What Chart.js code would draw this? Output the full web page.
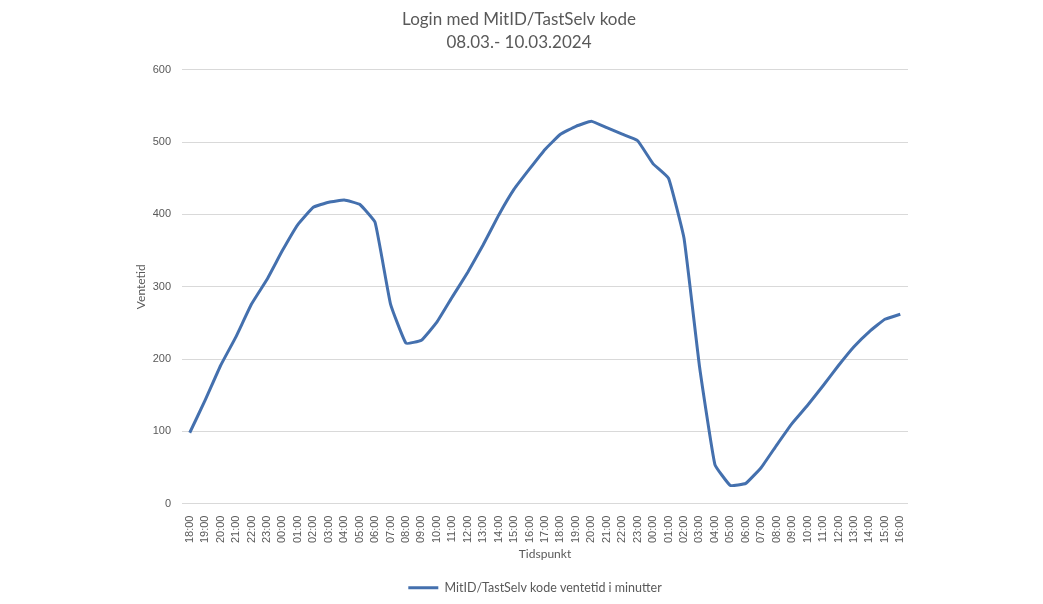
<!DOCTYPE html>
<html>
<head>
<meta charset="utf-8">
<script src="https://cdn.jsdelivr.net/npm/chart.js@4"></script>
<style>
  html, body { margin: 0; padding: 0; background: #fff; }
  #wrap { width: 1043px; height: 604px; }
</style>
</head>
<body>
<div id="wrap"><canvas id="ventetidChart"></canvas></div>
<script>
  // Tidspunkter 08.03 18:00 -> 10.03 16:00
  const tidspunkter = [
    '18:00', '19:00', '20:00', '21:00', '22:00', '23:00',
    '00:00', '01:00', '02:00', '03:00', '04:00', '05:00', '06:00', '07:00', '08:00', '09:00', '10:00', '11:00',
    '12:00', '13:00', '14:00', '15:00', '16:00', '17:00', '18:00', '19:00', '20:00', '21:00', '22:00', '23:00',
    '00:00', '01:00', '02:00', '03:00', '04:00', '05:00', '06:00', '07:00', '08:00', '09:00', '10:00', '11:00',
    '12:00', '13:00', '14:00', '15:00', '16:00'
  ];

  // ventetid i minutter
  const ventetid = [
    98, 143, 191, 231, 276, 310,
    350, 386, 410, 417, 420, 414, 389, 276, 222, 226, 251, 286,
    320, 358, 399, 435, 463, 490, 511, 522, 529, 520, 511, 502,
    470, 450, 367, 190, 54, 25, 28, 50, 81, 111, 136, 163,
    191, 217, 238, 255, 262
  ];

  const yTicks = [0, 100, 200, 300, 400, 500, 600];

  const grey = '#595959';
  const gridColor = '#d9d9d9';

  // nudge the legend a bit right, like in the original
  const legendShift = {
    id: 'legendShift',
    afterLayout(chart) {
      chart.legend.left += 16;
      chart.legend.right += 16;
    }
  };

  const ctx = document.getElementById('ventetidChart').getContext('2d');
  const ventetidChart = new Chart(ctx, {
    type: 'line',
    data: {
      labels: tidspunkter,
      datasets: [{
        label: 'MitID/TastSelv kode ventetid i minutter',
        data: ventetid,
        borderColor: '#4470AE',
        backgroundColor: '#4470AE',
        borderWidth: 3,
        pointRadius: 0,
        pointStyle: 'line',
        tension: 0.1,
        fill: false
      }]
    },
    options: {
      responsive: true,
      maintainAspectRatio: false,
      animation: false,
      layout: { padding: { left: 130, right: 135, top: 0, bottom: 0 } },
      plugins: {
        title: {
          display: true,
          text: ['Login med MitID/TastSelv kode', '08.03.- 10.03.2024'],
          color: grey,
          font: { family: 'Lato', size: 17, weight: 'normal', lineHeight: 1.35 },
          padding: { top: 8, bottom: 16 }
        },
        legend: {
          position: 'bottom',
          labels: {
            color: grey,
            font: { family: 'Lato', size: 12.5 },
            usePointStyle: true,
            pointStyleWidth: 30,
            padding: 10
          }
        },
        tooltip: { enabled: false }
      },
      scales: {
        x: {
          offset: true,
          grid: { display: false },
          border: { display: false },
          ticks: {
            color: grey,
            font: { family: 'Liberation Sans', size: 11 },
            autoSkip: false,
            minRotation: 90,
            maxRotation: 90,
            padding: 4
          },
          title: {
            display: true,
            text: 'Tidspunkt',
            color: grey,
            font: { family: 'Lato', size: 12 },
            padding: { top: 0, bottom: 10 }
          }
        },
        y: {
          min: 0,
          max: 600,
          afterBuildTicks: (scale) => { scale.ticks = yTicks.map(v => ({ value: v })); },
          afterFit: (scale) => { scale.width = 52; },
          grid: { color: gridColor, lineWidth: 1, drawTicks: false },
          border: { display: false },
          ticks: {
            color: grey,
            font: { family: 'Liberation Sans', size: 11 },
            padding: 11
          },
          title: {
            display: true,
            text: 'Ventetid',
            color: grey,
            font: { family: 'Lato', size: 12 },
            padding: { top: 4, bottom: 4 }
          }
        }
      }
    },
    plugins: [legendShift]
  });
</script>
</body>
</html>
